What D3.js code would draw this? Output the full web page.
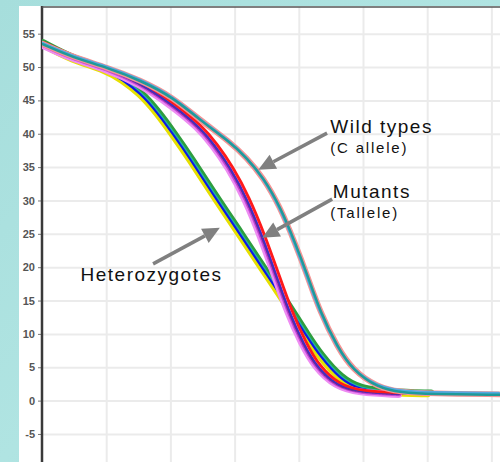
<!DOCTYPE html>
<html>
<head>
<meta charset="utf-8">
<script src="https://cdn.jsdelivr.net/npm/d3@7/dist/d3.min.js"></script>
<style>
  html, body { margin: 0; padding: 0; background: #a9e0de; }
  svg { display: block; }
</style>
</head>
<body>
<script>
// ---- data (temperature °C, fluorescence) ----
const yTicks = [-5, 0, 5, 10, 15, 20, 25, 30, 35, 40, 45, 50, 55];
const xGrid = [81, 82, 83, 84, 85, 86, 87];

const hetTemp  = [80.00, 80.48, 81.01, 81.26, 81.53, 81.79, 82.04, 82.31, 82.66, 83.04, 83.40, 83.82, 84.13, 84.33, 84.64, 84.95, 85.42, 86.04];
const hetFluor = [53.5, 51.05, 49.55, 48.05, 46.1, 43.26, 39.96, 36.21, 30.97, 25.57, 20.32, 14.33, 9.53, 6.68, 3.24, 1.59, 1.14, 0.99];

const mutTemp  = [80.00, 80.48, 81.01, 81.53, 82.04, 82.46, 82.69, 82.93, 83.19, 83.44, 83.66, 83.86, 84.07, 84.28, 84.60, 84.95, 85.58];
const mutFluor = [53.5, 51.35, 49.85, 47.63, 44.33, 41.01, 38.31, 35.01, 30.37, 24.52, 18.53, 13.13, 8.63, 5.04, 2.19, 1.29, 0.99];

const wildTemp  = [80.00, 80.48, 81.01, 81.53, 82.04, 82.46, 82.93, 83.19, 83.44, 83.71, 83.94, 84.13, 84.33, 84.60, 84.84, 85.22, 85.58, 86.04, 87.13];
const wildFluor = [53.5, 51.48, 49.98, 48.05, 45.49, 42.06, 38.76, 36.36, 33.51, 29.02, 23.62, 18.82, 13.28, 8.03, 4.59, 2.04, 1.29, 1.06, 0.94];

// annotations in data units
const labels = [
  {text: "Wild types", t: 84.49, v: 40.1, big: true},
  {text: "(C allele)", t: 84.49, v: 37.1, big: false},
  {text: "Mutants", t: 84.53, v: 30.4, big: true},
  {text: "(Tallele)", t: 84.49, v: 27.4, big: false},
  {text: "Heterozygotes", t: 80.60, v: 17.9, big: true}
];
const arrows = [
  {t0: 84.44, v0: 40.1, t1: 83.37, v1: 34.6},
  {t0: 84.52, v0: 30.2, t1: 83.43, v1: 24.4},
  {t0: 81.73, v0: 20.5, t1: 82.77, v1: 25.9}
];

// ---- layout ----
const W = 500, H = 462;
const panel = {x: 19, y: 6};
const plot = {left: 42, right: 500, top: 7, bottom: 462};

const svg = d3.select("body").append("svg").attr("width", W).attr("height", H);
const defs = svg.append("defs");
const grad = defs.append("linearGradient").attr("id", "bg").attr("x1", 0).attr("y1", 0).attr("x2", 1).attr("y2", 1);
grad.append("stop").attr("offset", "0%").attr("stop-color", "#a6dedc");
grad.append("stop").attr("offset", "50%").attr("stop-color", "#b0e4e2");
grad.append("stop").attr("offset", "100%").attr("stop-color", "#9fdad8");
defs.append("clipPath").attr("id", "clip").append("rect")
  .attr("x", plot.left).attr("y", plot.top)
  .attr("width", plot.right - plot.left).attr("height", plot.bottom - plot.top);

svg.append("rect").attr("width", W).attr("height", H).attr("fill", "url(#bg)");
svg.append("rect").attr("x", panel.x).attr("y", panel.y)
  .attr("width", W - panel.x).attr("height", H - panel.y).attr("fill", "#ffffff");

const x = d3.scaleLinear().domain([80, 87.134]).range([plot.left, plot.right]);
const y = d3.scaleLinear().domain([-9.2, 59]).range([plot.bottom, plot.top]);

// grid
const gx = svg.append("g").attr("transform", `translate(0,${plot.bottom})`)
  .call(d3.axisBottom(x).tickValues(xGrid).tickSize(-(plot.bottom - plot.top)).tickFormat(""));
gx.select(".domain").remove();
gx.selectAll(".tick line").attr("stroke", "#ebebeb").attr("stroke-width", 2);

const gy = svg.append("g").attr("transform", `translate(${plot.left},0)`)
  .call(d3.axisLeft(y).tickValues(yTicks).tickSize(-(plot.right - plot.left)).tickFormat(""));
gy.select(".domain").remove();
gy.selectAll(".tick line").attr("stroke", "#ebebeb").attr("stroke-width", 2);

// y axis with labels
const ya = svg.append("g").attr("transform", `translate(${plot.left},0)`)
  .call(d3.axisLeft(y).tickValues(yTicks).tickSize(4).tickPadding(3).tickFormat(d => String(d)));
ya.select(".domain").remove();
ya.selectAll(".tick line").attr("stroke", "#777").attr("stroke-width", 1);
ya.selectAll(".tick text")
  .attr("font-family", "Liberation Sans, Arial, sans-serif")
  .attr("font-size", 11).attr("font-weight", "bold").attr("fill", "#555");

// axis lines
svg.append("line").attr("x1", plot.left).attr("x2", plot.left)
  .attr("y1", plot.top - 1).attr("y2", plot.bottom)
  .attr("stroke", "#3a3a3a").attr("stroke-width", 2.5);
svg.append("line").attr("x1", plot.left).attr("x2", plot.right)
  .attr("y1", plot.top).attr("y2", plot.top)
  .attr("stroke", "#555").attr("stroke-width", 1.5);

// curves
const line = d3.line().x(d => x(d[0])).y(d => y(d[1])).curve(d3.curveBasis);
const zip = (a, b) => a.map((t, i) => [t, b[i]]);

const groups = [
  {pts: zip(hetTemp, hetFluor), layers: [
    {c: "#2e9e3e", w: 6.5, dx: 1.2, dy: -1.2},
    {c: "#e6df00", w: 4.2, dx: -1.6, dy: 1.2},
    {c: "#1fb5a5", w: 3.4, dx: 0.6, dy: -0.3},
    {c: "#1414e6", w: 2.0, dx: 0, dy: 0}
  ]},
  {pts: zip(mutTemp, mutFluor), layers: [
    {c: "#ee8cf2", w: 7, dx: -1.8, dy: 0.5},
    {c: "#c444d6", w: 4, dx: -1.0, dy: 0.3},
    {c: "#6a2a9a", w: 2.6, dx: -0.5, dy: 0, dash: "2,1.5"},
    {c: "#3030d0", w: 1.1, dx: 0, dy: 0},
    {c: "#ff1a1a", w: 2.8, dx: 2.4, dy: -1}
  ]},
  {pts: zip(wildTemp, wildFluor), layers: [
    {c: "#f49494", w: 5.8, dx: 0, dy: 0},
    {c: "#58a8e0", w: 2.6, dx: -1, dy: -1.2},
    {c: "#1f9a9a", w: 2.5, dx: 0.5, dy: 0.5}
  ]}
];

const cg = svg.append("g").attr("clip-path", "url(#clip)");
groups.forEach(g => {
  g.layers.forEach(l => {
    cg.append("path").datum(g.pts)
      .attr("d", line)
      .attr("transform", `translate(${l.dx},${l.dy})`)
      .attr("fill", "none")
      .attr("stroke", l.c)
      .attr("stroke-width", l.w)
      .attr("stroke-linejoin", "round")
      .attr("stroke-linecap", "round")
      .attr("stroke-dasharray", l.dash || null);
  });
});

// arrows
const ag = svg.append("g");
arrows.forEach(a => {
  const x0 = x(a.t0), y0 = y(a.v0), x1 = x(a.t1), y1 = y(a.v1);
  const ang = Math.atan2(y1 - y0, x1 - x0);
  const L = 17, Wd = 8;
  const bx = x1 - L * Math.cos(ang), by = y1 - L * Math.sin(ang);
  ag.append("line").attr("x1", x0).attr("y1", y0).attr("x2", bx).attr("y2", by)
    .attr("stroke", "#808080").attr("stroke-width", 3.5);
  const px = -Math.sin(ang), py = Math.cos(ang);
  ag.append("path")
    .attr("d", `M${x1},${y1}L${bx + px * Wd},${by + py * Wd}L${bx - px * Wd},${by - py * Wd}Z`)
    .attr("fill", "#808080");
});

// labels
svg.append("g").selectAll("text").data(labels).join("text")
  .attr("x", d => x(d.t)).attr("y", d => y(d.v))
  .attr("font-family", "Liberation Sans, Arial, sans-serif")
  .attr("font-size", d => d.big ? 19 : 15)
  .attr("letter-spacing", d => d.big ? 1.5 : 1.8)
  .attr("fill", "#111")
  .text(d => d.text);
</script>
</body>
</html>
